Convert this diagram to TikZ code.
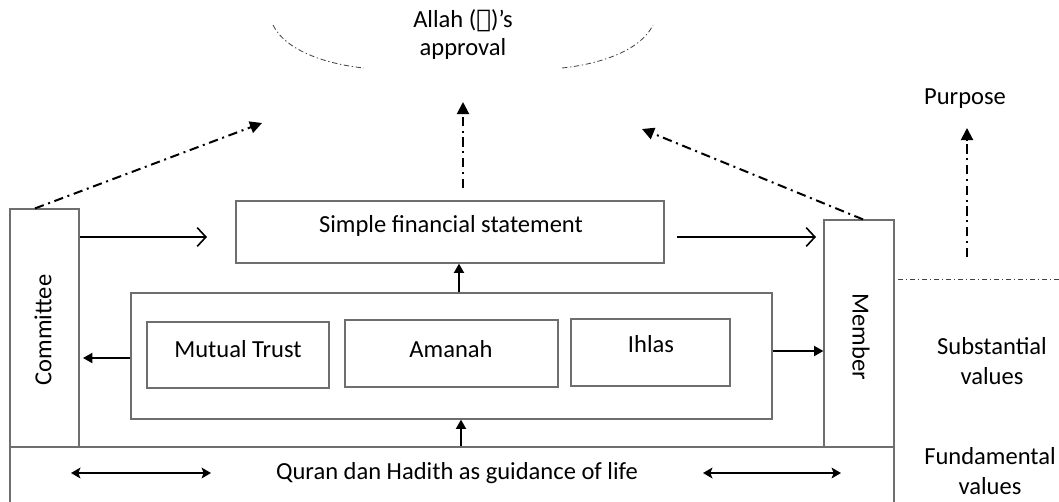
\documentclass[tikz,border=0pt]{standalone}
\usepackage{fontspec}
\setmainfont{Carlito}
\newfontfamily\arabicfont[Script=Arabic]{DejaVu Sans}
\usetikzlibrary{arrows.meta,fit}
\definecolor{boxgray}{HTML}{6E6E6E}
\begin{document}
\begin{tikzpicture}[x=0.75pt,y=-0.75pt,
  box/.style={draw=boxgray,line width=0.9pt,inner sep=0pt,fit={#1}},
  lbl/.style={font=\fontsize{18.4}{23}\selectfont,align=center,inner sep=0pt},
  solidarr/.style={line width=1.4pt,-{Triangle[length=7pt,width=7.5pt]}},
  openarr/.style={line width=1.2pt,-{Straight Barb[length=6.5pt,width=14pt,line width=1.2pt]}},
  dbl/.style={line width=1.6pt,{Stealth[length=7pt,width=8pt,inset=1.5pt]}-{Stealth[length=7pt,width=8pt,inset=1.5pt]}},
  dd/.style={line width=1.5pt,dash pattern=on 7pt off 3.5pt on 1.5pt off 3.5pt},
  ddarr/.style={dd,-{Triangle[length=9pt,width=9pt]}},
  thindd/.style={draw=black!75,line width=0.6pt,dash pattern=on 4pt off 2pt on 1pt off 2pt}]
\useasboundingbox[fill=white] (0,0) rectangle (1059,501);

% boxes
\node[box={(10,209) (79,447)}] (com) {};
\node[box={(824,220) (894,447)}] (mem) {};
\node[box={(10,447) (894,505)}] (base) {};
\node[box={(236,201) (664,263)}] (sfs) {};
\node[box={(131,293) (772,419)}] (inner) {};
\node[box={(147,322) (329,388)}] (mt) {};
\node[box={(345,320) (558,387)}] (am) {};
\node[box={(571,319) (730,386)}] (ih) {};

% texts
\node[lbl] (sfst) at (451,226) {Simple financial statement};
\node[lbl] (mtt) at (238,349) {Mutual Trust};
\node[lbl] (amt) at (451,349) {Amanah};
\node[lbl] (iht) at (651,344) {Ihlas};
\node[lbl,rotate=90] (comt) at (43,330) {Committee};
\node[lbl,rotate=-90] (memt) at (861,337) {Member};
\node[lbl] (qt) at (457,473) {Quran dan Hadith as guidance of life};
\node[lbl] (allah) at (463,21) {Allah ({\arabicfont ﷻ})’s};
\node[lbl] (appr) at (463,49) {approval};
\node[lbl] (purp) at (965,99) {Purpose};
\node[lbl] (subst) at (992,361) {Substantial\\values};
\node[lbl,font=\fontsize{18.4}{22}\selectfont] (fund) at (990,471) {Fundamental\\values};

% coordinates for free ends
\coordinate (a1) at (81,237);
\coordinate (a2) at (207,237);
\coordinate (b1) at (677,237);
\coordinate (b2) at (816,237);
\coordinate (c1) at (459,264);
\coordinate (d1) at (461,447);
\coordinate (e1) at (83,358);
\coordinate (f1) at (772,351);
\coordinate (q1) at (71,473);
\coordinate (q2) at (211,473);
\coordinate (q3) at (703,473);
\coordinate (q4) at (841,473);
\coordinate (g1) at (35,208);
\coordinate (g2) at (262,123);
\coordinate (h1) at (463,188);
\coordinate (h2) at (463,102);
\coordinate (i1) at (863,221);
\coordinate (i2) at (642,129);
\coordinate (p1) at (967,257);
\coordinate (p2) at (967,128);
\coordinate (l1) at (898,279);
\coordinate (l2) at (1059,279);

% solid connectors
\draw[openarr] (com.east |- a1) -- (a2);
\draw[openarr] (b1) -- (b2);
\draw[solidarr] (inner.north -| c1) -- (sfs.south -| c1);
\draw[solidarr] (base.north -| d1) -- (inner.south -| d1);
\draw[solidarr] (inner.west |- e1) -- (e1);
\draw[solidarr] (inner.east |- f1) -- (mem.west |- f1);
\draw[dbl] (q1) -- (q2);
\draw[dbl] (q3) -- (q4);

% dash-dot connectors
\draw[ddarr] (com.north -| g1) -- (g2);
\draw[ddarr] (h1) -- (h2);
\draw[ddarr] (mem.north -| i1) -- (i2);
\draw[ddarr] (p1) -- (p2);
\draw[thindd] (l1) -- (l2);

% approval arcs
\draw[thindd] (273,25) .. controls (285,50) and (325,64) .. (364,68);
\draw[thindd] (562,68) .. controls (601,64) and (641,50) .. (653,25);
\end{tikzpicture}
\end{document}
